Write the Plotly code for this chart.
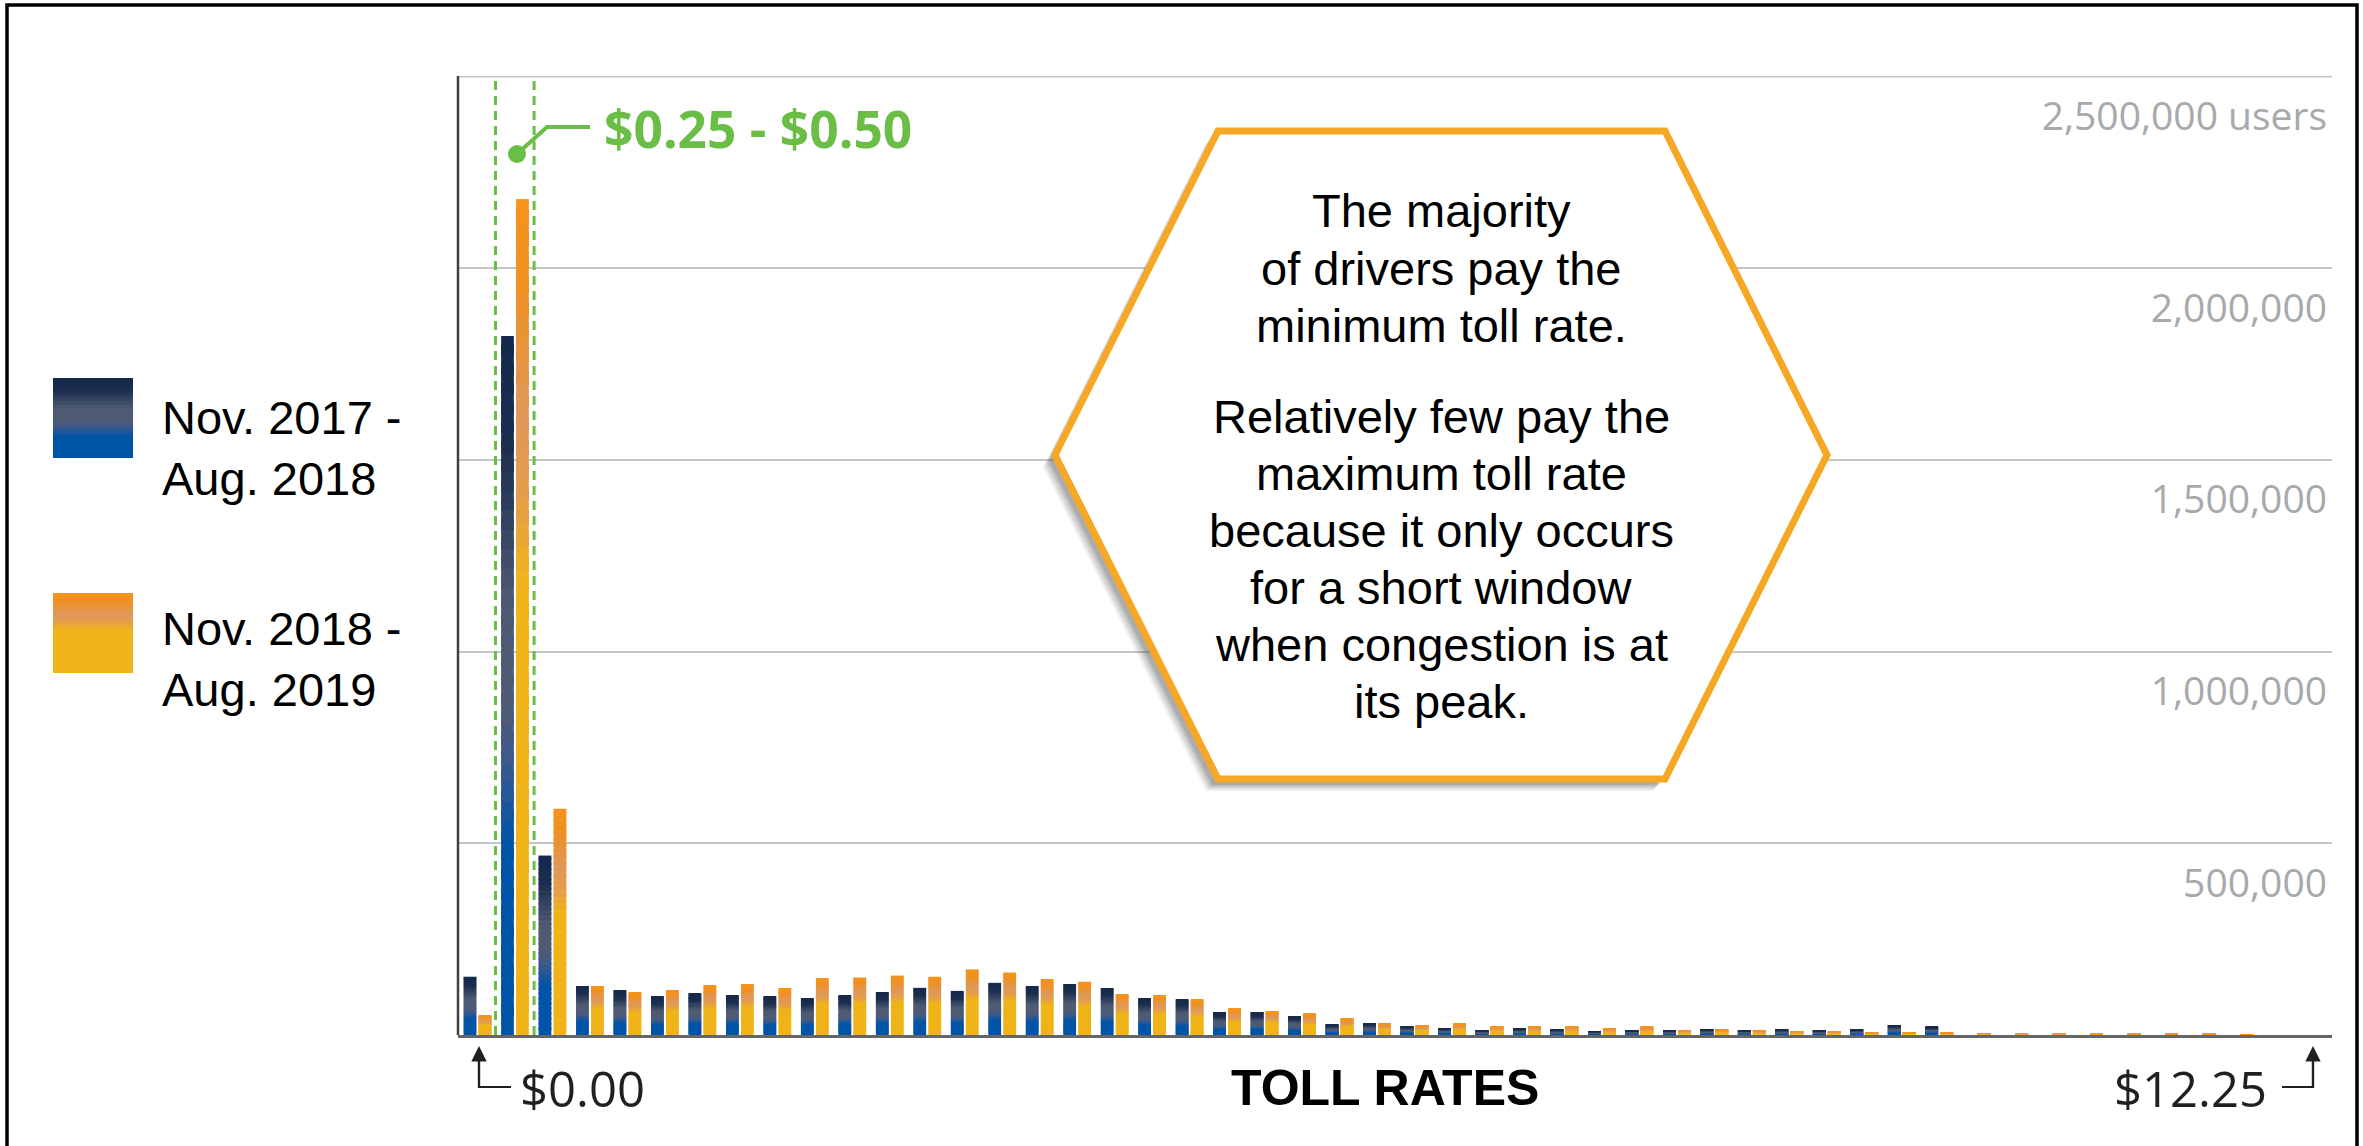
import plotly.graph_objects as go

# ---------------------------------------------------------------- data
toll_rates = [
    "$0.00", "$0.25", "$0.50", "$0.75", "$1.00", "$1.25", "$1.50", "$1.75", "$2.00", "$2.25",
    "$2.50", "$2.75", "$3.00", "$3.25", "$3.50", "$3.75", "$4.00", "$4.25", "$4.50", "$4.75",
    "$5.00", "$5.25", "$5.50", "$5.75", "$6.00", "$6.25", "$6.50", "$6.75", "$7.00", "$7.25",
    "$7.50", "$7.75", "$8.00", "$8.25", "$8.50", "$8.75", "$9.00", "$9.25", "$9.50", "$9.75",
    "$10.00", "$10.25", "$10.50", "$10.75", "$11.00", "$11.25", "$11.50", "$11.75", "$12.00", "$12.25",
]

users_2017_2018 = [
    152000, 1823000, 468000, 127000, 116000, 100000, 108000, 103000, 100000, 96000,
    103000, 112000, 123000, 115000, 136000, 127000, 133000, 122000, 95000, 92000,
    59000, 59000, 49000, 27000, 31000, 23000, 18000, 12000, 17000, 14000,
    10000, 12000, 12000, 15000, 12000, 14000, 12000, 14000, 26000, 21000,
    0, 0, 0, 0, 0, 0, 0, 0, 0, 0,
]

users_2018_2019 = [
    51000, 2180000, 590000, 127000, 111000, 117000, 129000, 132000, 121000, 148000,
    150000, 155000, 152000, 171000, 163000, 145000, 139000, 107000, 104000, 92000,
    68000, 62000, 55000, 43000, 30000, 26000, 29000, 22000, 22000, 22000,
    17000, 21000, 13000, 15000, 12000, 10000, 9000, 7000, 7000, 6000,
    4000, 4000, 4000, 3000, 3000, 3000, 3000, 2000, 0, 0,
]

series_labels = ["Nov. 2017 -<br>Aug. 2018", "Nov. 2018 -<br>Aug. 2019"]

y_tick_values = [500000, 1000000, 1500000, 2000000, 2500000]
y_tick_labels = ["500,000", "1,000,000", "1,500,000", "2,000,000", "2,500,000 users"]
y_max = 2500000

highlight_label = "$0.25 - $0.50"
axis_title = "TOLL RATES"
callout_para_1 = ["The majority", "of drivers pay the", "minimum toll rate."]
callout_para_2 = [
    "Relatively few pay the", "maximum toll rate", "because it only occurs",
    "for a short window", "when congestion is at", "its peak.",
]

# ---------------------------------------------------------------- styling
W, H = 2363, 1146
PL, PR, PT, PB = 458, 2332, 76, 1035          # plot area in page pixels

SANS = "Liberation Sans, Arial, sans-serif"
OPEN = "Open Sans, sans-serif"
GREEN = "#6abd45"
HEX_ORANGE = "#f6a723"

# vertical gradients, position 0 = bar bottom, 1 = bar top
BLUE_STOPS = [(0.0, "#0054a6"), (0.27, "#0054a6"), (0.40, "#3f5a88"), (0.47, "#4f5b74"),
              (0.62, "#4e5a72"), (0.84, "#1c2e50"), (1.0, "#13284a")]
GOLD_STOPS = [(0.0, "#f0b318"), (0.54, "#f0b318"), (0.64, "#e49e4a"), (0.74, "#df985a"),
              (0.90, "#f0901f"), (1.0, "#f7931d")]
N_BANDS = 36
BAR_W = 0.34
OFFSETS = [-0.35, 0.05]


def hex_rgb(h):
    h = h.lstrip("#")
    return tuple(int(h[i:i + 2], 16) for i in (0, 2, 4))


def grad_color(stops, t):
    for (p0, c0), (p1, c1) in zip(stops[:-1], stops[1:]):
        if t <= p1:
            f = 0 if p1 == p0 else (t - p0) / (p1 - p0)
            a, b = hex_rgb(c0), hex_rgb(c1)
            return "rgb(%d,%d,%d)" % tuple(round(a[i] + (b[i] - a[i]) * f) for i in range(3))
    return stops[-1][1]


def px(x):
    return (x - PL) / (PR - PL)


def py(y):
    return (PB - y) / (PB - PT)


fig = go.Figure()

# ---------------------------------------------------------------- bars (gradient built from stacked bands)
for vals, stops, off in ((users_2017_2018, BLUE_STOPS, OFFSETS[0]),
                         (users_2018_2019, GOLD_STOPS, OFFSETS[1])):
    for k in range(N_BANDS):
        lo, hi = k / N_BANDS, (k + 1) / N_BANDS
        overlap = 0.6 / N_BANDS if k < N_BANDS - 1 else 0.0
        fig.add_trace(go.Bar(
            x=toll_rates,
            y=[v * (hi - lo + overlap) for v in vals],
            base=[v * lo for v in vals],
            offset=off,
            width=BAR_W,
            marker=dict(color=grad_color(stops, (lo + hi) / 2), line=dict(width=0)),
            showlegend=False,
            hoverinfo="skip",
        ))

shapes = []
annotations = []

# left axis line
shapes.append(dict(type="line", xref="paper", yref="paper", x0=0, x1=0, y0=0, y1=1,
                   line=dict(color="#414042", width=2.5), layer="above"))

# top grid line at the axis maximum
shapes.append(dict(type="line", xref="paper", yref="y", x0=0, x1=1, y0=y_max, y1=y_max,
                   line=dict(color="#c4c5c7", width=2), layer="below"))

# dashed bracket around the $0.25 bin
for xb in (0.5, 1.53):
    shapes.append(dict(type="line", xref="x", yref="paper", x0=xb, x1=xb, y0=0, y1=1,
                       line=dict(color=GREEN, width=3, dash="9px,6px"), layer="above"))

# green pointer: dot + elbow line
shapes.append(dict(type="path", xref="paper", yref="paper",
                   path="M %f,%f L %f,%f L %f,%f" % (px(517), py(154), px(547), py(127), px(590), py(127)),
                   line=dict(color=GREEN, width=4), layer="above"))
shapes.append(dict(type="circle", xref="paper", yref="paper", xsizemode="pixel", ysizemode="pixel",
                   xanchor=px(517), yanchor=py(154), x0=-9, x1=9, y0=-9, y1=9,
                   fillcolor=GREEN, line=dict(width=0), layer="above"))
annotations.append(dict(text=highlight_label, xref="paper", yref="paper", x=px(602), y=py(128),
                        xanchor="left", yanchor="middle", showarrow=False,
                        font=dict(family=OPEN, size=51.5, color=GREEN, weight="bold")))

# hexagon callout with soft shadow
hex_pts = [(1218, 131), (1665, 131), (1827, 455), (1665, 779), (1218, 779), (1055, 455)]


def hex_path(dx=0, dy=0):
    return "M " + " L ".join("%f,%f" % (px(x + dx), py(y + dy)) for x, y in hex_pts) + " Z"


for d, op in ((12, 0.10), (10, 0.14), (8, 0.18), (6, 0.22)):
    shapes.append(dict(type="path", xref="paper", yref="paper", path=hex_path(-d, d),
                       fillcolor="rgba(90,90,90,%.2f)" % op, line=dict(width=0), layer="above"))
shapes.append(dict(type="path", xref="paper", yref="paper", path=hex_path(),
                   fillcolor="white", line=dict(color=HEX_ORANGE, width=7), layer="above"))

line_ys = [208, 266, 323, 414, 471, 528, 585, 642, 699]
for txt, yc in zip(callout_para_1 + callout_para_2, line_ys):
    annotations.append(dict(text=txt, xref="paper", yref="paper", x=px(1441), y=py(yc + 2),
                            xanchor="center", yanchor="middle", showarrow=False,
                            font=dict(family=SANS, size=47, color="#000000")))

# legend
for (y_top, stops, label, y_txt) in ((378, BLUE_STOPS, series_labels[0], 448),
                                     (593, GOLD_STOPS, series_labels[1], 659)):
    size = 80
    nb = 24
    for k in range(nb):
        t0, t1 = k / nb, (k + 1) / nb
        yb = y_top + size - t0 * size
        yt = y_top + size - t1 * size - (0.6 if k < nb - 1 else 0)
        shapes.append(dict(type="rect", xref="paper", yref="paper",
                           x0=px(53), x1=px(133), y0=py(yb), y1=py(yt),
                           fillcolor=grad_color(stops, (t0 + t1) / 2), line=dict(width=0)))
    annotations.append(dict(text=label, xref="paper", yref="paper", x=px(160), y=py(y_txt),
                            xanchor="left", yanchor="middle", align="left", showarrow=False,
                            font=dict(family=SANS, size=47, color="#000000")))

# axis end labels with corner arrows
ARROW_C = "#231f20"
for x_tip, x_end in ((479, 511), (2313, 2282)):
    annotations.append(dict(text="", xref="paper", yref="paper", x=px(x_tip), y=py(1046),
                            showarrow=True, ax=0, ay=42, axref="pixel", ayref="pixel",
                            arrowhead=2, arrowsize=1.4, arrowwidth=2.2, arrowcolor=ARROW_C,
                            standoff=0, startstandoff=0, font=dict(size=1)))
    shapes.append(dict(type="path", xref="paper", yref="paper",
                       path="M %f,%f L %f,%f L %f,%f" % (px(x_tip), py(1060), px(x_tip), py(1087),
                                                        px(x_end), py(1087)),
                       line=dict(color=ARROW_C, width=2.2)))

annotations.append(dict(text=toll_rates[0], xref="paper", yref="paper", x=px(518), y=py(1088),
                        xanchor="left", yanchor="middle", showarrow=False,
                        font=dict(family=OPEN, size=49, color=ARROW_C)))
annotations.append(dict(text=toll_rates[-1], xref="paper", yref="paper", x=px(2269), y=py(1088),
                        xanchor="right", yanchor="middle", showarrow=False,
                        font=dict(family=OPEN, size=49, color=ARROW_C)))
annotations.append(dict(text=axis_title, xref="paper", yref="paper", x=px(1385), y=py(1088),
                        xanchor="center", yanchor="middle", showarrow=False,
                        font=dict(family=SANS, size=50, color="#000000", weight="bold")))

# outer frame
shapes.append(dict(type="path", xref="paper", yref="paper",
                   path="M %f,%f L %f,%f L %f,%f L %f,%f" % (px(7), py(1170), px(7), py(5),
                                                            px(2357), py(5), px(2357), py(1170)),
                   line=dict(color="#000000", width=3.5), layer="above"))

fig.update_layout(
    width=W, height=H,
    margin=dict(l=PL, r=W - PR, t=PT, b=H - PB, pad=0, autoexpand=False),
    paper_bgcolor="white", plot_bgcolor="white",
    barmode="overlay",
    showlegend=False,
    shapes=shapes,
    annotations=annotations,
    xaxis=dict(type="category", categoryorder="array", categoryarray=toll_rates,
               range=[-0.5, len(toll_rates) - 0.5], showticklabels=False, ticks="",
               showgrid=False, zeroline=False, showline=True, linecolor="#646567", linewidth=3,
               fixedrange=True),
    yaxis=dict(range=[0, y_max * 1.0004], side="right", tickmode="array",
               tickvals=y_tick_values, ticktext=y_tick_labels,
               ticklabelposition="inside", ticklabelshift=40, ticklabelstandoff=2, ticks="",
               tickfont=dict(family=OPEN, size=39, color="#a7a9ac"),
               showgrid=True, gridcolor="#c4c5c7", gridwidth=2,
               zeroline=False, showline=False, fixedrange=True),
)

fig.write_html("out.html", config={"displayModeBar": False})
